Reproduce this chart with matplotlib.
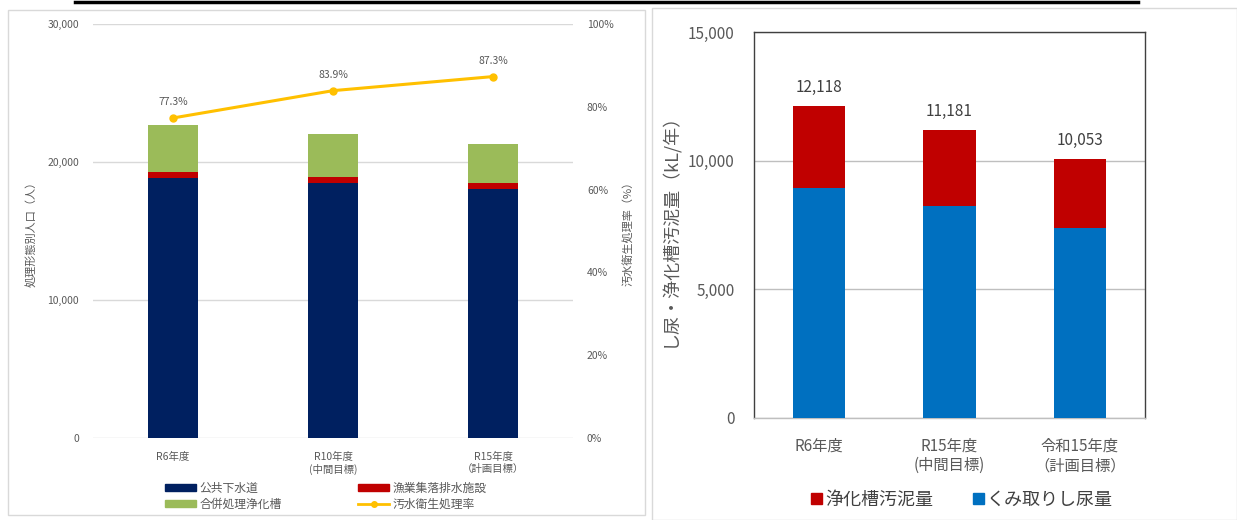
import matplotlib.pyplot as plt
from matplotlib.patches import Patch, Rectangle
from matplotlib.lines import Line2D
from matplotlib.ticker import FuncFormatter

plt.rcParams['font.family'] = ['Noto Sans CJK JP', 'DejaVu Sans']

# left chart data
years_l = ["R6年度", "R10年度\n(中間目標)", "R15年度\n（計画目標）"]
sewer = [18840, 18480, 18040]
fishery = [440, 430, 440]
septic = [3400, 3120, 2820]
rate = [77.3, 83.9, 87.3]

# right chart data
years_r = ["R6年度", "R15年度\n(中間目標)", "令和15年度\n（計画目標）"]
totals = [12118, 11181, 10053]
kumitori = [8950, 8220, 7400]
sludge = [t - k for t, k in zip(totals, kumitori)]

W, H = 1237, 520
fig = plt.figure(figsize=(W / 100, H / 100), dpi=100)


def px(x0, y0, x1, y1):
    return [x0 / W, 1 - y1 / H, (x1 - x0) / W, (y1 - y0) / H]


# panel frames and top line
fig.patches.append(Rectangle((8 / W, 1 - 515 / H), 637 / W, 505 / H, transform=fig.transFigure,
                             fill=False, ec="#D9D9D9", lw=1))
fig.patches.append(Rectangle((652 / W, 0), 585 / W, 1 - 8 / H, transform=fig.transFigure,
                             fill=False, ec="#D9D9D9", lw=1))
fig.add_artist(Line2D([75 / W, 1138 / W], [1 - 1.5 / H] * 2, transform=fig.transFigure,
                      color="black", lw=2.5))

grey = "#595959"

# ---- left chart ----
ax = fig.add_axes(px(93, 24, 573, 438))
x = range(len(years_l))
bw = 0.31
ax.bar(x, sewer, bw, color="#002060", zorder=3)
ax.bar(x, fishery, bw, bottom=sewer, color="#C00000", zorder=3)
b3 = [a + b for a, b in zip(sewer, fishery)]
ax.bar(x, septic, bw, bottom=b3, color="#9BBB59", zorder=3)
ax.set_ylim(0, 30000)
ax.set_xlim(-0.5, 2.5)
ax.set_yticks([0, 10000, 20000, 30000])
ax.yaxis.set_major_formatter(FuncFormatter(lambda v, p: f"{v:,.0f}"))
ax.grid(axis="y", color="#D9D9D9", lw=1, zorder=0)
for s in ax.spines.values():
    s.set_visible(False)
ax.tick_params(length=0, labelsize=7.5, colors=grey, pad=10)
ax.set_xticks(list(x))
ax.set_xticklabels(years_l, fontsize=7.5, color=grey)
ax.set_ylabel("処理形態別人口（人）", fontsize=8, color=grey, labelpad=8)

ax2 = ax.twinx()
ax2.plot(list(x), rate, color="#FFC000", lw=2.2, marker="o", ms=5, zorder=4)
for i, r in enumerate(rate):
    ax2.annotate(f"{r}%", (i, r), textcoords="offset points", xytext=(0, 9),
                 ha="center", fontsize=7.5, color=grey)
ax2.set_ylim(0, 100)
ax2.set_yticks(range(0, 101, 20))
ax2.yaxis.set_major_formatter(FuncFormatter(lambda v, p: f"{v:.0f}%"))
for s in ax2.spines.values():
    s.set_visible(False)
ax2.tick_params(length=0, labelsize=7.5, colors=grey, pad=10)
ax2.set_ylabel("汚水衛生処理率（%）", fontsize=8, color=grey, labelpad=6)

h_l = [Patch(color="#002060"), Patch(color="#9BBB59"), Patch(color="#C00000"),
       Line2D([], [], color="#FFC000", lw=2, marker="o", ms=4)]
lab_l = ["公共下水道", "合併処理浄化槽", "漁業集落排水施設", "汚水衛生処理率"]
fig.legend(h_l, lab_l, ncol=2, loc="center", bbox_to_anchor=(326 / W, 1 - 496 / H),
           frameon=False, fontsize=8.5, labelcolor=grey, handlelength=2.6, handleheight=0.5,
           columnspacing=6.5, labelspacing=0.25, handletextpad=0.3)

# ---- right chart ----
axr = fig.add_axes(px(754, 32, 1145, 418))
xr = range(len(years_r))
bwr = 0.4
axr.bar(xr, kumitori, bwr, color="#0070C0", zorder=3)
axr.bar(xr, sludge, bwr, bottom=kumitori, color="#C00000", zorder=3)
for i, t in enumerate(totals):
    axr.annotate(f"{t:,}", (i, t), textcoords="offset points", xytext=(0, 10),
                 ha="center", fontsize=11, color="#404040")
axr.set_ylim(0, 15000)
axr.set_xlim(-0.5, 2.5)
axr.set_yticks([0, 5000, 10000, 15000])
axr.yaxis.set_major_formatter(FuncFormatter(lambda v, p: f"{v:,.0f}"))
axr.grid(axis="y", color="#BFBFBF", lw=1, zorder=0)
for s in axr.spines.values():
    s.set_color("#404040")
    s.set_linewidth(1)
axr.spines["bottom"].set_color("#BFBFBF")
axr.tick_params(length=0, labelsize=11, colors=grey, pad=14)
axr.set_xticks(list(xr))
axr.set_xticklabels(years_r, fontsize=11, color=grey)
axr.set_ylabel("し尿・浄化槽汚泥量（kL/年）", fontsize=13, color=grey, labelpad=6)

h_r = [Patch(color="#C00000"), Patch(color="#0070C0")]
fig.legend(h_r, ["浄化槽汚泥量", "くみ取りし尿量"], ncol=2, loc="center",
           bbox_to_anchor=(962 / W, 1 - 500 / H), frameon=False, fontsize=13,
           labelcolor="#404040", handlelength=0.6, handleheight=0.6, handletextpad=0.2,
           columnspacing=2.2)

fig.savefig("out.png", dpi=100)
